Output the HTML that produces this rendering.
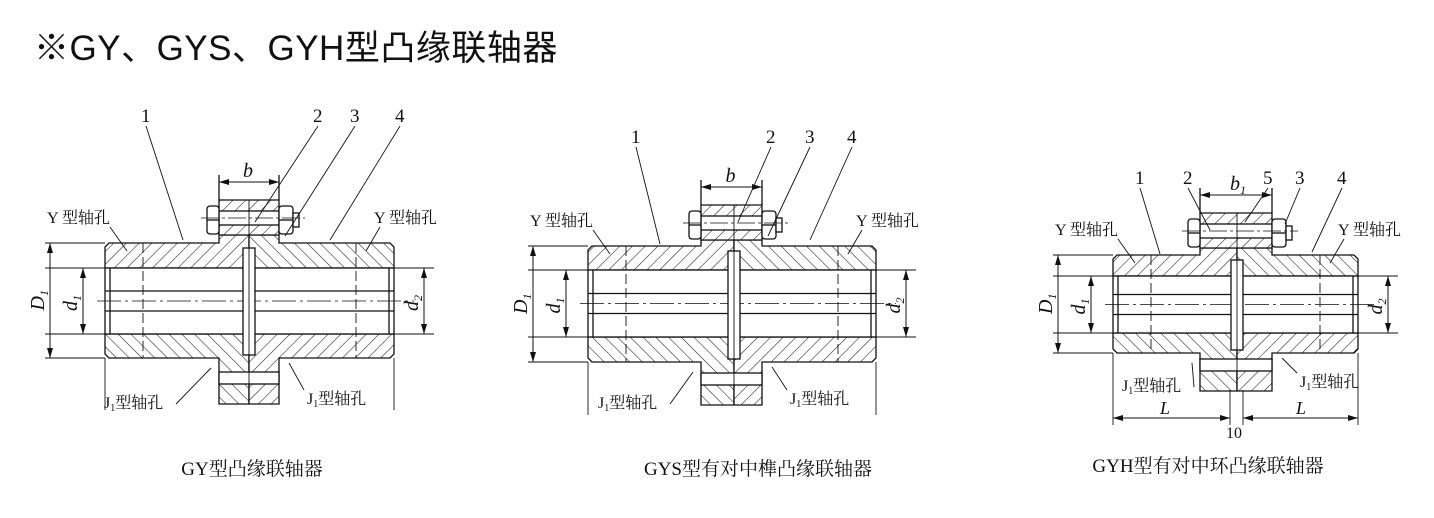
<!DOCTYPE html>
<html><head><meta charset="utf-8"><style>
html,body{margin:0;padding:0;background:#fff;}
body{width:1434px;height:518px;overflow:hidden;position:relative;}
.t{position:absolute;left:34px;top:20px;font:35px "Liberation Sans","Noto Sans CJK SC",sans-serif;color:#111;letter-spacing:0.5px;}
svg{position:absolute;left:0;top:0;}
</style></head><body>
<div class="t">※GY、GYS、GYH型凸缘联轴器</div>
<svg id="s" width="1434" height="518" xmlns="http://www.w3.org/2000/svg" font-family="'Liberation Serif','Noto Serif CJK SC',serif" fill="#111">
<defs><pattern id="h" width="9" height="9" patternUnits="userSpaceOnUse" patternTransform="rotate(45)"><rect width="9" height="9" fill="#fff"/><line x1="0" y1="0" x2="0" y2="9" stroke="#222" stroke-width="1.1"/></pattern>
<pattern id="h2" width="9" height="9" patternUnits="userSpaceOnUse" patternTransform="rotate(-45)"><rect width="9" height="9" fill="#fff"/><line x1="0" y1="0" x2="0" y2="9" stroke="#222" stroke-width="1.1"/></pattern>
<marker id="a" markerWidth="10" markerHeight="6" refX="10" refY="3" orient="auto-start-reverse" markerUnits="userSpaceOnUse"><path d="M0,0L10,3L0,6z" fill="#111"/></marker></defs>
<g id="g" stroke="#111" stroke-width="1.3"></g>
<text x="252" y="475" font-size="19" text-anchor="middle">GY型凸缘联轴器</text>
<text x="758" y="475" font-size="19" text-anchor="middle">GYS型有对中榫凸缘联轴器</text>
<text x="1208" y="472" font-size="19" text-anchor="middle">GYH型有对中环凸缘联轴器</text>
</svg>
<script>
var o='';
function P(d,f){o+='<path d="'+d+'" fill="'+(f||'none')+'"/>';}
function L(a,b,c,d,x){o+='<line x1="'+a+'" y1="'+b+'" x2="'+c+'" y2="'+d+'" '+(x||'')+'/>';}
function T(x,y,s,t,it){o+='<text x="'+x+'" y="'+y+'" font-size="'+s+'" stroke="none"'+(it?' font-style="italic"':'')+'>'+t+'</text>';}
function C(c){
 var l=c.L,r=c.R,t=c.T,b=c.B,bt=c.bt,bb=c.bb,fl=c.fl,fr=c.fr,ft=c.ft,fb=c.fb,cx=c.cx,my=(bt+bb)/2;
 P('M'+(l+4)+','+t+'H'+fl+'V'+(ft+35)+'H'+cx+'V'+bt+'H'+l+'V'+(t+4)+'Z','url(#h)');
 P('M'+cx+','+(ft+35)+'H'+fr+'V'+t+'H'+(r-4)+'L'+r+','+(t+4)+'V'+bt+'H'+cx+'Z','url(#h2)');
 P('M'+l+','+bb+'H'+cx+'V'+fb+'H'+fl+'V'+b+'H'+(l+4)+'L'+l+','+(b-4)+'Z','url(#h2)');
 P('M'+cx+','+bb+'H'+r+'V'+(b-4)+'L'+(r-4)+','+b+'H'+fr+'V'+fb+'H'+cx+'Z','url(#h)');
 P('M'+fl+','+ft+'H'+fr+'V'+(ft+35)+'H'+fl+'Z','url(#h)');
 o+='<rect x="'+(fl)+'" y="'+(ft+11)+'" width="'+(fr-fl)+'" height="14" fill="#fff"/>';
 o+='<rect x="'+(fl)+'" y="'+(fb-32)+'" width="'+(fr-fl)+'" height="12" fill="#fff"/>';
 o+='<rect x="'+(fl-12)+'" y="'+(ft+6)+'" width="12" height="28" rx="3" fill="#fff"/>';
 o+='<rect x="'+fr+'" y="'+(ft+6)+'" width="14" height="28" rx="3" fill="#fff"/>';
 o+='<rect x="'+(fr+14)+'" y="'+(ft+13)+'" width="6" height="14" fill="#fff"/>';
 L(fl-12,ft+20,fl,ft+20);L(fr,ft+20,fr+14,ft+20);
 L(fl-18,ft+18,fr+26,ft+18,'stroke-dasharray="18 3 3 3" stroke-width="0.8"');
 o+='<rect x="'+l+'" y="'+bt+'" width="'+(r-l)+'" height="'+(bb-bt)+'" fill="#fff"/>';
 L(l-60,bt,r+40,bt,'stroke-width="1"');L(l-60,bb,r+40,bb,'stroke-width="1"');
 L(l,my-10,r,my-10);L(l,my+10,r,my+10);
 L(l-8,my,r+20,my,'stroke-dasharray="24 4 3 4" stroke-width="0.8"');
 L(l+38,t,l+38,b,'stroke-dasharray="10 4" stroke-width="0.9"');L(r-38,t,r-38,b,'stroke-dasharray="10 4" stroke-width="0.9"');
 L(l+5,bt,l+5,bb);L(r-5,bt,r-5,bb);
 o+='<rect x="'+(cx-6)+'" y="'+(t+5)+'" width="12" height="'+(b-t-8)+'" fill="#fff"/>';
 L(cx,ft,cx,fb,'stroke-width="0.9"');
 L(l-60,t,l,t,'stroke-width="0.9"');L(l-60,b,l,b,'stroke-width="0.9"');
 L(l,b,l,c.ext,'stroke-width="0.9"');L(r,b,r,c.ext,'stroke-width="0.9"');
 L(l-55,t,l-55,b,'marker-start="url(#a)" marker-end="url(#a)" stroke-width="1"');
 L(l-22,bt,l-22,bb,'marker-start="url(#a)" marker-end="url(#a)" stroke-width="1"');
 L(r+30,bt,r+30,bb,'marker-start="url(#a)" marker-end="url(#a)" stroke-width="1"');
 o+='<text transform="translate('+(l-61)+','+((t+b)/2+10)+') rotate(-90)" font-size="20" font-style="italic" stroke="none">D<tspan font-size="12" dy="4">1</tspan></text>';
 o+='<text transform="translate('+(l-28)+','+(my+10)+') rotate(-90)" font-size="20" font-style="italic" stroke="none">d<tspan font-size="12" dy="4">1</tspan></text>';
 o+='<text transform="translate('+(r+24)+','+(my+10)+') rotate(-90)" font-size="20" font-style="italic" stroke="none">d<tspan font-size="12" dy="4">2</tspan></text>';
 L(fl,ft-25,fl,ft);L(fr,ft-25,fr,ft);
 L(fl,ft-18,fr,ft-18,'marker-start="url(#a)" marker-end="url(#a)" stroke-width="1"');
 T((fl+fr)/2-6,ft-23,20,c.bl,1);
 var n=c.n;for(var i=0;i<n.length;i++){T(n[i][0]-5,n[i][1],19,n[i][4]);L(n[i][0],n[i][1]+4,n[i][2],n[i][3],'stroke-width="0.9"');}
 T(l-58,t-20,16,'Y 型轴孔');L(l+5,t-16,l+22,t+8,'stroke-width="0.9"');
 T(r-20,t-20,16,'Y 型轴孔');L(r-14,t-16,r-28,t+8,'stroke-width="0.9"');
 T(c.jl,c.jy,16,'J<tspan font-size="10" dy="3">1</tspan><tspan dy="-3">型轴孔</tspan>');L(c.jl+72,c.jy-4,fl-8,b+10,'stroke-width="0.9"');
 T(fr+28,c.jy-4,16,'J<tspan font-size="10" dy="3">1</tspan><tspan dy="-3">型轴孔</tspan>');L(fr+25,c.jy-18,fr+10,b+5,'stroke-width="0.9"');
}
C({L:105,R:394,T:243,B:358,bt:268,bb:334,fl:219,fr:279,ft:200,fb:404,cx:249,ext:410,bl:'b',jl:104,jy:408,
 n:[[146,122,183,240,'1'],[318,122,255,222,'2'],[355,122,285,236,'3'],[400,122,330,240,'4']]});
C({L:588,R:876,T:246,B:362,bt:270,bb:337,fl:701,fr:762,ft:205,fb:405,cx:734,ext:415,bl:'b',jl:598,jy:408,
 n:[[636,143,660,244,'1'],[771,143,738,222,'2'],[810,143,768,236,'3'],[852,143,810,240,'4']]});
C({L:1113,R:1358,T:255,B:353,bt:276,bb:333,fl:1200,fr:1272,ft:213,fb:391,cx:1237,ext:425,bl:'b<tspan font-size="12" dy="4">1</tspan>',jl:1122,jy:391,
 n:[[1140,184,1160,254,'1'],[1188,184,1210,230,'2'],[1268,184,1245,222,'5'],[1300,184,1285,224,'3'],[1342,184,1312,252,'4']]});
o+='<line x1="1113" y1="418" x2="1230" y2="418" marker-start="url(#a)" marker-end="url(#a)" stroke-width="1"/>';
o+='<line x1="1243" y1="418" x2="1358" y2="418" marker-start="url(#a)" marker-end="url(#a)" stroke-width="1"/>';
o+='<line x1="1230" y1="390" x2="1230" y2="425" stroke-width="0.9"/><line x1="1243" y1="390" x2="1243" y2="425" stroke-width="0.9"/>';
o+='<text x="1160" y="414" font-size="18" font-style="italic" stroke="none">L</text><text x="1296" y="414" font-size="18" font-style="italic" stroke="none">L</text><text x="1226" y="438" font-size="16" stroke="none">10</text>';
document.getElementById('g').innerHTML=o;
</script>
</body></html>
